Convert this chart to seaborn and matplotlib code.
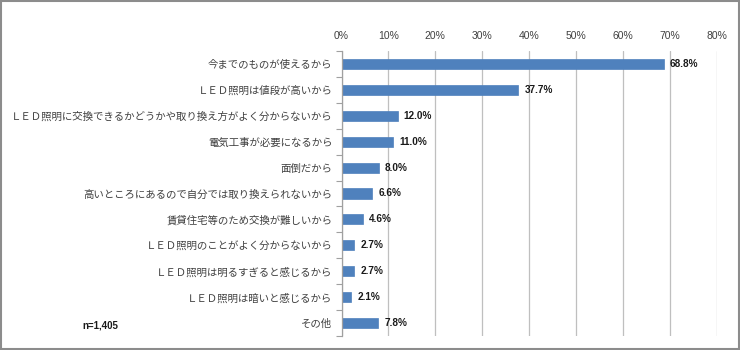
import matplotlib
matplotlib.use("Agg")
import matplotlib.pyplot as plt
import seaborn as sns
import pandas as pd
from matplotlib.ticker import FixedLocator
from matplotlib.patches import Rectangle

categories = [
    "今までのものが使えるから",
    "ＬＥＤ照明は値段が高いから",
    "ＬＥＤ照明に交換できるかどうかや取り換え方がよく分からないから",
    "電気工事が必要になるから",
    "面倒だから",
    "高いところにあるので自分では取り換えられないから",
    "賃貸住宅等のため交換が難しいから",
    "ＬＥＤ照明のことがよく分からないから",
    "ＬＥＤ照明は明るすぎると感じるから",
    "ＬＥＤ照明は暗いと感じるから",
    "その他",
]
values = [68.8, 37.7, 12.0, 11.0, 8.0, 6.6, 4.6, 2.7, 2.7, 2.1, 7.8]
x_ticks = [0, 10, 20, 30, 40, 50, 60, 70, 80]
note = "n=1,405"

sns.set_theme(style="white")
plt.rcParams['font.family'] = ['Noto Sans CJK JP', 'DejaVu Sans']

df = pd.DataFrame({"cat": categories, "val": values})

fig = plt.figure(figsize=(7.4, 3.5), dpi=100)
ax = fig.add_axes([341.5/740, 1 - 336/350, (716.5-341.5)/740, (336-51)/350])

sns.barplot(data=df, y="cat", x="val", orient="h", color="#4F81BD",
            width=0.39, ax=ax, saturation=1, edgecolor="#4F81BD", linewidth=0.5)

ax.set_xlim(0, 80)
ax.set_ylim(len(categories) - 0.5, -0.5)
ax.xaxis.tick_top()
ax.set_xticks(x_ticks)
ax.set_xticklabels([f"{t}%" for t in x_ticks], fontsize=7.5, color="#404040",
                   family=["Liberation Sans"])
ax.tick_params(axis="x", length=0, pad=7)
ax.set_xlabel("")
ax.set_ylabel("")
ax.tick_params(axis="y", which="major", length=0, pad=6.5, labelsize=7.5, labelcolor="#404040")
ax.yaxis.set_minor_locator(FixedLocator([i - 0.5 for i in range(len(categories) + 1)]))
ax.tick_params(axis="y", which="minor", length=4, width=0.8, color="#A0A0A0", direction="out", left=True)

ax.grid(axis="x", color="#BFBFBF", linewidth=0.9)
ax.set_axisbelow(True)
for s in ["top", "right", "bottom"]:
    ax.spines[s].set_visible(False)
ax.spines["left"].set_color("#A0A0A0")
ax.spines["left"].set_linewidth(0.9)

for i, v in enumerate(values):
    ax.text(v + 1.3, i, f"{v:.1f}%", va="center", ha="left", fontsize=7.2,
            fontweight="bold", color="#1a1a1a", family=["Liberation Sans"])

fig.text(82/740, 1 - 326/350, note, fontsize=7, fontweight="bold", va="center",
         ha="left", color="#1a1a1a", family=["Liberation Sans"])

fig.patches.append(Rectangle((0.001, 0.002), 0.997, 0.996, transform=fig.transFigure,
                             fill=False, edgecolor="#8C8C8C", linewidth=1.5))

fig.savefig("out.png", dpi=100)
